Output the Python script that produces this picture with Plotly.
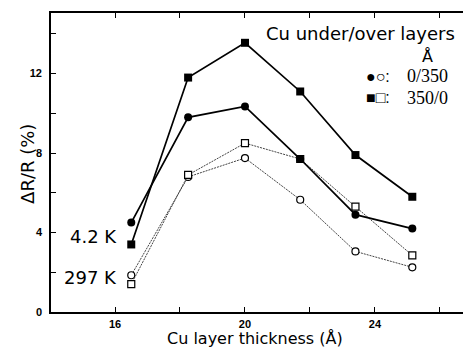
import plotly.graph_objects as go

# Data
thickness = [16.5, 18.25, 20.0, 21.7, 23.4, 25.15]
sq_4K = [3.4, 11.8, 13.55, 11.1, 7.9, 5.8]      # 350/0, 4.2 K (filled squares)
ci_4K = [4.5, 9.8, 10.35, 7.7, 4.9, 4.2]        # 0/350, 4.2 K (filled circles)
sq_297 = [1.4, 6.9, 8.5, 7.7, 5.3, 2.85]        # 350/0, 297 K (open squares)
ci_297 = [1.85, 6.8, 7.75, 5.65, 3.05, 2.25]    # 0/350, 297 K (open circles)

SANS = "DejaVu Sans"
TICK = "Liberation Sans"
SERIF = "Liberation Serif"

fig = go.Figure()

thin = dict(color="#444444", width=1, dash="2px,1px")
thick = dict(color="black", width=1.7)

fig.add_trace(go.Scatter(x=thickness, y=ci_297, mode="lines+markers", line=thin,
                         marker=dict(symbol="circle", size=7, color="white",
                                     line=dict(color="black", width=1.2))))
fig.add_trace(go.Scatter(x=thickness, y=sq_297, mode="lines+markers", line=thin,
                         marker=dict(symbol="square", size=7, color="white",
                                     line=dict(color="black", width=1.2))))
fig.add_trace(go.Scatter(x=thickness, y=sq_4K, mode="lines+markers", line=thick,
                         marker=dict(symbol="square", size=8, color="black")))
fig.add_trace(go.Scatter(x=thickness, y=ci_4K, mode="lines+markers", line=thick,
                         marker=dict(symbol="circle", size=8, color="black")))

tickfont = dict(family=TICK, size=11, color="black", weight="bold")

fig.update_xaxes(range=[14.03, 26.71], tick0=0, dtick=4, ticks="inside", ticklen=5,
                 tickwidth=1.2, tickcolor="black", showline=True, linecolor="black",
                 linewidth=1.6, mirror="ticks", showgrid=False, zeroline=False,
                 tickfont=tickfont, ticklabelstandoff=1,
                 minor=dict(dtick=2, tick0=0, ticks="inside", ticklen=5,
                            tickwidth=1.2, tickcolor="black", showgrid=False))
fig.update_yaxes(range=[0, 15.05], tick0=0, dtick=4, ticks="inside", ticklen=5,
                 tickwidth=1.2, tickcolor="black", showline=True, linecolor="black",
                 linewidth=1.6, mirror=False, showgrid=False, zeroline=False,
                 tickfont=tickfont, ticklabelstandoff=5,
                 minor=dict(dtick=2, tick0=0, ticks="inside", ticklen=5,
                            tickwidth=1.2, tickcolor="black", showgrid=False))

ann = []
def A(text, x, y, xanchor="center", yanchor="middle", size=18, family=SANS, angle=0):
    ann.append(dict(text=text, x=x, y=y, xref="paper", yref="paper", xanchor=xanchor,
                    yanchor=yanchor, showarrow=False, textangle=angle, borderpad=0,
                    font=dict(family=family, size=size, color="black")))

A("Cu layer thickness (Å)", 0.495, -0.123, yanchor="bottom", size=16)
A("ΔR/R (%)", -0.056, 0.495, size=18, angle=-90)
A("4.2 K", 0.1626, 0.251, xanchor="right")
A("297 K", 0.1626, 0.114, xanchor="right")
A("Cu under/over layers", 0.983, 0.933, xanchor="right")
A("Å", 0.913, 0.853, size=16)
A("●○:", 0.763, 0.789, xanchor="left", size=16, family="Liberation Sans")
A("0/350", 0.862, 0.789, xanchor="left", size=18, family=SERIF)
A("■□:", 0.763, 0.716, xanchor="left", size=16, family="Liberation Sans")
A("350/0", 0.862, 0.716, xanchor="left", size=18, family=SERIF)

fig.update_layout(width=463, height=349, margin=dict(l=51, r=0, t=13, b=37),
                  plot_bgcolor="white", paper_bgcolor="white", showlegend=False,
                  annotations=ann)

fig.write_html("out.html", config={"displayModeBar": False},
               post_script="document.body.style.margin='0';document.body.style.overflow='hidden';")
